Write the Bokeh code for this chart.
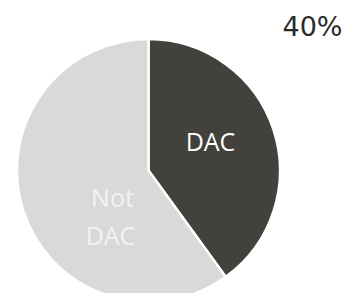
from math import pi
from bokeh.plotting import figure
from bokeh.models import Range1d, ColumnDataSource
from bokeh.core.properties import value
from bokeh.embed import file_html
from bokeh.resources import INLINE

# data
categories = ["DAC", "Not DAC"]
shares = [40, 60]
colors = ["#43413B", "#D9D9D9"]
label_lines = [["DAC"], ["Not", "DAC"]]
label_colors = ["#FFFFFF", "#F2F2F2"]

total = sum(shares)
starts, ends = [], []
a = pi / 2
for s in shares:
    starts.append(a)
    a = a - s / total * 2 * pi
    ends.append(a)

src = ColumnDataSource(dict(cat=categories, start=starts, end=ends, color=colors))

W, H = 346, 293
p = figure(width=W, height=H, output_backend="svg", toolbar_location=None,
           x_range=Range1d(-148, -148 + W), y_range=Range1d(170 - H, 170),
           min_border=0)
p.axis.visible = False
p.grid.visible = False
p.outline_line_color = None
p.background_fill_color = "white"

R = 131.5
p.wedge(x=0, y=0, radius=R, start_angle="end", end_angle="start",
        direction="anticlock", fill_color="color", line_color="white",
        line_width=2.5, source=src)

# slice labels (one text per line)
anchors = [[(62, 30)], [(-36, -26.5), (-38, -64.5)]]
tx, ty, tt, tc = [], [], [], []
for lines, pos, col in zip(label_lines, anchors, label_colors):
    for line, (x, y) in zip(lines, pos):
        tx.append(x); ty.append(y); tt.append(line); tc.append(col)
p.text(x=tx, y=ty, text=tt, text_color=tc,
       text_font=value("Open Sans"), text_font_size="25px",
       text_align="center", text_baseline="middle")

# headline percentage
pct = f"{round(shares[0] / total * 100)}%"
p.text(x=[164], y=[144], text=[pct], text_color="#2B2B2B",
       text_font=value("DejaVu Sans"), text_font_size="27px",
       text_align="center", text_baseline="middle")

open("out.html", "w").write(file_html(p, INLINE))
